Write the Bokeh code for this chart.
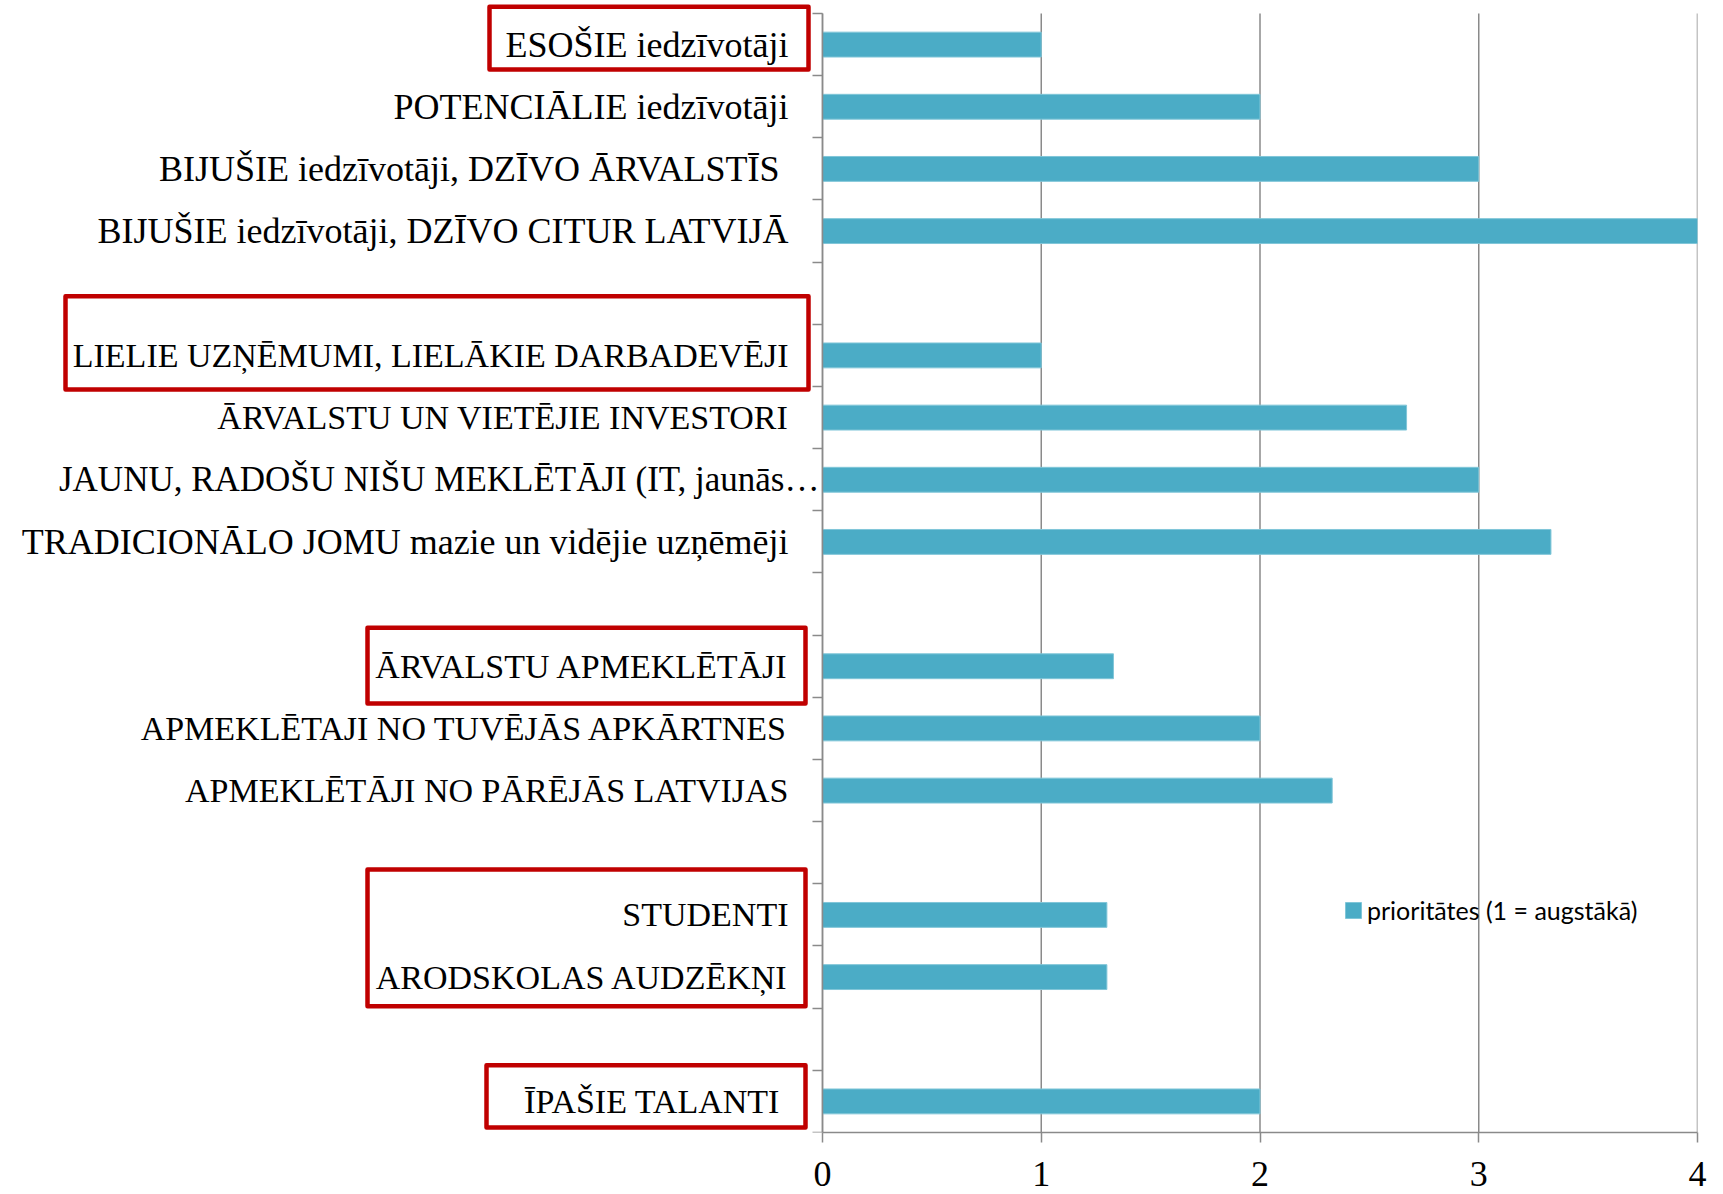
from bokeh.plotting import figure
from bokeh.models import (Range1d, LinearAxis, FixedTicker, ColumnDataSource)
from bokeh.embed import file_html
from bokeh.resources import INLINE

# ---- data (top to bottom); "" marks an empty spacer row ----
categories = [
    "ESOŠIE iedzīvotāji",
    "POTENCIĀLIE iedzīvotāji",
    "BIJUŠIE iedzīvotāji, DZĪVO ĀRVALSTĪS ",
    "BIJUŠIE iedzīvotāji, DZĪVO CITUR LATVIJĀ",
    "",
    "LIELIE UZŅĒMUMI, LIELĀKIE DARBADEVĒJI",
    "ĀRVALSTU UN VIETĒJIE INVESTORI",
    "JAUNU, RADOŠU NIŠU MEKLĒTĀJI (IT, jaunās…",
    "TRADICIONĀLO JOMU mazie un vidējie uzņēmēji",
    "",
    "ĀRVALSTU APMEKLĒTĀJI",
    "APMEKLĒTAJI NO TUVĒJĀS APKĀRTNES",
    "APMEKLĒTĀJI NO PĀRĒJĀS LATVIJAS",
    "",
    "STUDENTI",
    "ARODSKOLAS AUDZĒKŅI",
    "",
    "ĪPAŠIE TALANTI ",
]
values = [1, 2, 3, 4, None, 1, 2.67, 3, 3.33, None, 1.33, 2, 2.33, None, 1.3, 1.3, None, 2]
series_name = "prioritātes (1 = augstākā)"
x_ticks = [0, 1, 2, 3, 4]

# highlighted groups: (first row, last row) indices into categories
highlight_groups = [(0, 0), (5, 5), (10, 10), (14, 15), (17, 17)]
# box styling: (top pad, bottom pad in rows, left px from axis, right px from axis)
box_styles = [(0.11, -0.10, -333, -14), (0.45, 0.05, -757, -14), (0.12, 0.10, -455, -17),
              (0.23, -0.03, -455, -17), (0.08, -0.08, -336, -17)]

n = len(categories)
row_y = [n - 1 - i for i in range(n)]
src = ColumnDataSource(dict(
    y=[y for y, v in zip(row_y, values) if v is not None],
    val=[v for v in values if v is not None],
))

# ---- layout (pixels) ----
W, H = 1723, 1194
AXIS_PX = 822          # distance from canvas left to the value axis
UNIT_PX = 218.75       # pixels per value unit
ROW_PX = 62.17         # pixels per category row
TOP_EXTRA = 10         # frame extends this far above the first row (room for a box)
MT = 3
MB = 62
MR = W - int(AXIS_PX + UNIT_PX * x_ticks[-1])
x_left = -AXIS_PX / UNIT_PX
y_top = n - 0.5 + TOP_EXTRA / ROW_PX

GRAY = "#8a8a8a"
p = figure(width=W, height=H, output_backend="svg", toolbar_location=None,
           y_range=Range1d(-0.5, y_top),
           x_range=Range1d(x_left, x_ticks[-1]),
           y_axis_location=None,
           min_border_left=0, min_border_right=MR, min_border_top=MT, min_border_bottom=MB)
p.outline_line_color = None
p.background_fill_color = "white"
p.border_fill_color = "white"
p.ygrid.visible = False
p.xgrid.visible = False

# vertical grid lines across the category rows
p.segment(x0=x_ticks, x1=x_ticks, y0=[-0.5] * len(x_ticks), y1=[n - 0.5] * len(x_ticks),
          line_color=GRAY, line_width=1.5)

# bars
p.hbar(y="y", left=0, right="val", height=0.4, source=src,
       fill_color="#4BACC6", line_color="#80c6d8", line_width=1,
       legend_label=series_name)

# red highlight boxes
bl, br, bt, bb = [], [], [], []
for (r0, r1), (tp, bp, lpx, rpx) in zip(highlight_groups, box_styles):
    bt.append(row_y[r0] + 0.5 + tp)
    bb.append(row_y[r1] - 0.5 - bp)
    bl.append(lpx / UNIT_PX)
    br.append(rpx / UNIT_PX)
p.quad(left=bl, right=br, top=bt, bottom=bb, fill_alpha=0,
       line_color="#C00000", line_width=4.5, line_join="round")

# tick axis at category boundaries, fixed at value 0
tick_axis = LinearAxis(fixed_location=0,
                       ticker=FixedTicker(ticks=[i - 0.5 for i in range(n + 1)]),
                       bounds=(-0.5, n - 0.5),
                       axis_line_color=GRAY, axis_line_width=1.5,
                       major_tick_line_color=GRAY, major_tick_line_width=1.5,
                       major_tick_out=10, major_tick_in=0,
                       minor_tick_line_color=None,
                       major_label_text_font_size="1px", major_label_text_alpha=0,
                       major_label_standoff=0)
p.add_layout(tick_axis, "left")

# category labels, fixed at value 0; style chosen per label kind
# (truncated labels run up to the axis; all-capital labels are set a little smaller
#  so the wide capitals of the substitute serif font match the original widths)
def label_style(c):
    if c.endswith("…"):
        return (3, "35px")
    if c == c.upper():
        return (34, "34px")
    return (34, "36px")

groups = {}
for y, c in zip(row_y, categories):
    groups.setdefault(label_style(c), []).append((y, c))

for (standoff, size), rows in groups.items():
    ax = LinearAxis(fixed_location=0,
                    ticker=FixedTicker(ticks=[y for y, _ in rows]),
                    major_label_overrides={y: c for y, c in rows},
                    major_label_standoff=standoff,
                    axis_line_color=None, major_tick_line_color=None,
                    major_tick_out=0, major_tick_in=0, minor_tick_line_color=None,
                    major_label_text_font="Liberation Serif",
                    major_label_text_font_size=size,
                    major_label_text_color="black")
    p.add_layout(ax, "left")

xa = p.xaxis[0]
xa.ticker = FixedTicker(ticks=x_ticks)
xa.bounds = (x_ticks[0], x_ticks[-1])
xa.axis_line_color = GRAY
xa.axis_line_width = 1.5
xa.major_tick_line_color = GRAY
xa.major_tick_line_width = 1.5
xa.major_tick_out = 10
xa.major_tick_in = 0
xa.minor_tick_line_color = None
xa.major_label_text_font = "Liberation Serif"
xa.major_label_text_font_size = "36px"
xa.major_label_text_color = "black"
xa.major_label_standoff = 19

lg = p.legend[0]
lg.location = (1343, 207)
lg.border_line_color = None
lg.background_fill_alpha = 0
lg.padding = 0
lg.margin = 0
lg.spacing = 0
lg.glyph_width = 20
lg.glyph_height = 20
lg.label_standoff = 4
lg.label_text_font = "Lato"
lg.label_text_font_size = "25px"
lg.label_text_color = "black"

open("out.html", "w").write(file_html(p, INLINE))
